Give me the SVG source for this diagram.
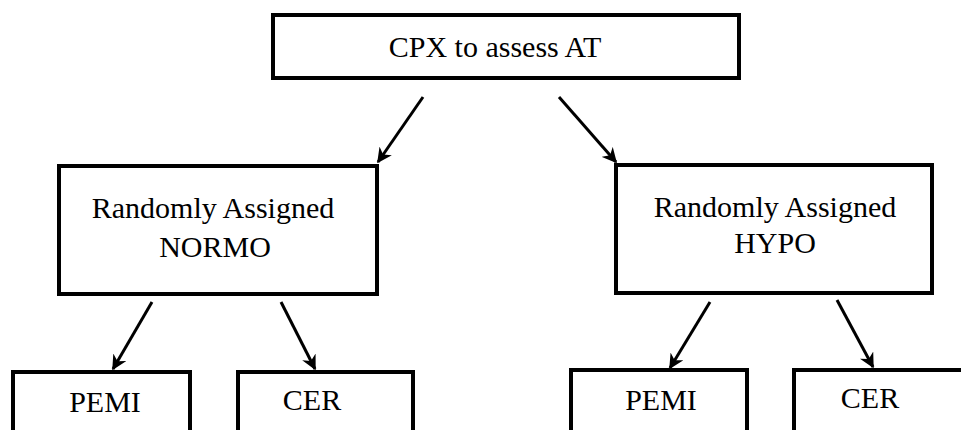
<svg xmlns="http://www.w3.org/2000/svg" width="961" height="430" viewBox="0 0 961 430">
  <style>
    .box { fill: #fff; stroke: #000; stroke-width: 4; }
    .lbl { font-family: "Liberation Serif", "Times New Roman", serif; font-size: 30px; fill: #000; text-anchor: middle; }
    .edge { stroke: #000; stroke-width: 3; fill: none; marker-end: url(#arrow); }
  </style>
  <defs>
    <marker id="arrow" viewBox="0 0 10 10" refX="9" refY="5" markerWidth="5" markerHeight="5" orient="auto" markerUnits="strokeWidth">
      <path d="M0,0 L10,5 L0,10 L3,5 Z" fill="#000"/>
    </marker>
  </defs>
  <rect width="961" height="430" fill="#fff"/>

  <g id="edges">
    <line class="edge" x1="423" y1="97" x2="378" y2="162"/>
    <line class="edge" x1="559" y1="97" x2="616" y2="162"/>
    <line class="edge" x1="152" y1="302" x2="113" y2="369"/>
    <line class="edge" x1="281" y1="302" x2="315" y2="369"/>
    <line class="edge" x1="710" y1="302" x2="670" y2="368"/>
    <line class="edge" x1="837" y1="300" x2="873" y2="367"/>
  </g>

  <g id="cpx">
    <rect class="box" x="273" y="15" width="466" height="63"/>
    <text class="lbl" x="495" y="57">CPX to assess AT</text>
  </g>

  <g id="normo">
    <rect class="box" x="59" y="166" width="318" height="128"/>
    <text class="lbl" x="213" y="218">Randomly Assigned</text>
    <text class="lbl" x="215" y="257">NORMO</text>
  </g>

  <g id="hypo">
    <rect class="box" x="616" y="165" width="316" height="128"/>
    <text class="lbl" x="775" y="217">Randomly Assigned</text>
    <text class="lbl" x="775" y="253">HYPO</text>
  </g>

  <g id="normo-pemi">
    <rect class="box" x="13" y="372" width="177" height="70"/>
    <text class="lbl" x="105" y="412">PEMI</text>
  </g>

  <g id="normo-cer">
    <rect class="box" x="238" y="372" width="175" height="70"/>
    <text class="lbl" x="312" y="410">CER</text>
  </g>

  <g id="hypo-pemi">
    <rect class="box" x="571" y="370" width="176" height="70"/>
    <text class="lbl" x="661" y="410">PEMI</text>
  </g>

  <g id="hypo-cer">
    <rect class="box" x="794" y="370" width="180" height="70"/>
    <text class="lbl" x="870" y="408">CER</text>
  </g>
</svg>
